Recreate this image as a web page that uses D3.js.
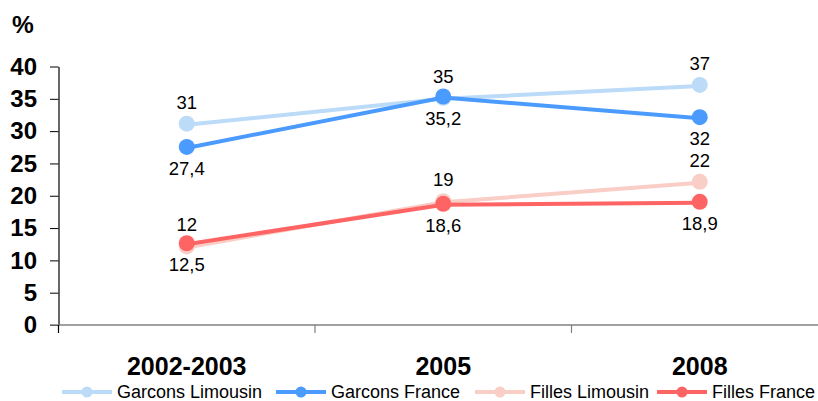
<!DOCTYPE html>
<html>
<head>
<meta charset="utf-8">
<script src="https://cdn.jsdelivr.net/npm/d3@7"></script>
<style>
  body { margin: 0; background: #fff; }
  svg { display: block; font-family: "Liberation Sans", Arial, sans-serif; }
</style>
</head>
<body>
<div id="chart"></div>
<script>
// data
var categories = ["2002-2003", "2005", "2008"];
var seriesNames = ["Garcons Limousin", "Garcons France", "Filles Limousin", "Filles France"];
var garconsLimousin = [31, 35, 37];
var garconsFrance = [27.4, 35.2, 32];
var fillesLimousin = [12, 19, 22];
var fillesFrance = [12.5, 18.6, 18.9];
var labelsGL = ["31", "35", "37"];
var labelsGF = ["27,4", "35,2", "32"];
var labelsFL = ["12", "19", "22"];
var labelsFF = ["12,5", "18,6", "18,9"];
var yTicks = [0, 5, 10, 15, 20, 25, 30, 35, 40];

var colors = ["#bcdbf9", "#4b9bfe", "#f9cec6", "#ff6464"];

var series = [
  {name: seriesNames[0], values: garconsLimousin, labels: labelsGL, color: colors[0], above: true},
  {name: seriesNames[1], values: garconsFrance, labels: labelsGF, color: colors[1], above: false},
  {name: seriesNames[2], values: fillesLimousin, labels: labelsFL, color: colors[2], above: true},
  {name: seriesNames[3], values: fillesFrance, labels: labelsFF, color: colors[3], above: false}
];

var W = 818, H = 401;
var svg = d3.select("#chart").append("svg")
  .attr("width", W).attr("height", H);

var x = d3.scaleBand()
  .domain(categories)
  .range([58.5, 828])
  .padding(0);

var y = d3.scaleLinear()
  .domain([0, 40])
  .range([325, 66.5]);

// y axis
var yAxis = svg.append("g")
  .attr("transform", "translate(58.5,0)")
  .call(d3.axisLeft(y).tickValues(yTicks).tickSize(8.5).tickSizeOuter(0).tickPadding(13));
yAxis.select(".domain").attr("stroke", "#000").attr("stroke-width", 1.2);
yAxis.selectAll(".tick line").attr("stroke", "#000");
yAxis.selectAll(".tick text")
  .attr("font-size", 24).attr("font-weight", "bold").attr("fill", "#000")
  .attr("font-family", "Liberation Sans, Arial, sans-serif");

// x axis
var xAxis = svg.append("g")
  .attr("transform", "translate(0,325)");
xAxis.append("line")
  .attr("x1", 50).attr("x2", W).attr("y1", 0).attr("y2", 0)
  .attr("stroke", "#808080").attr("stroke-width", 1.5);
xAxis.selectAll(".tickmark")
  .data(categories.slice(1))
  .enter().append("line")
  .attr("x1", function(d) { return x(d); })
  .attr("x2", function(d) { return x(d); })
  .attr("y1", 0).attr("y2", 8)
  .attr("stroke", "#808080").attr("stroke-width", 1.2);
xAxis.append("line")
  .attr("x1", 58.5).attr("x2", 58.5).attr("y1", 0).attr("y2", 8)
  .attr("stroke", "#000").attr("stroke-width", 1.2);

svg.selectAll(".cat")
  .data(categories)
  .enter().append("text")
  .attr("x", function(d) { return x(d) + x.bandwidth() / 2; })
  .attr("y", 375)
  .attr("text-anchor", "middle")
  .attr("font-size", 25).attr("font-weight", "bold")
  .text(function(d) { return d; });

// % label
svg.append("text")
  .attr("x", 12).attr("y", 33)
  .attr("font-size", 24.5).attr("font-weight", "bold")
  .text("%");

var cx = function(i) { return x(categories[i]) + x.bandwidth() / 2; };

var line = d3.line()
  .x(function(d, i) { return cx(i); })
  .y(function(d) { return y(d); });

series.forEach(function(s) {
  var g = svg.append("g");
  g.append("path")
    .datum(s.values)
    .attr("d", line)
    .attr("fill", "none")
    .attr("stroke", s.color)
    .attr("stroke-width", 4);
  g.selectAll("circle")
    .data(s.values)
    .enter().append("circle")
    .attr("cx", function(d, i) { return cx(i); })
    .attr("cy", function(d) { return y(d) - 1; })
    .attr("r", 8)
    .attr("fill", s.color);
  g.selectAll("text")
    .data(s.values)
    .enter().append("text")
    .attr("x", function(d, i) { return cx(i); })
    .attr("y", function(d) { return s.above ? y(d) - 16 : y(d) + 27; })
    .attr("text-anchor", "middle")
    .attr("font-size", 18.5)
    .attr("fill", "#000")
    .text(function(d, i) { return s.labels[i]; });
});

// legend
var legendX = [62, 276, 475, 657];
var leg = svg.append("g");
series.forEach(function(s, i) {
  var lg = leg.append("g").attr("transform", "translate(" + legendX[i] + ",392)");
  lg.append("line").attr("x1", 0).attr("x2", 50).attr("y1", 0).attr("y2", 0)
    .attr("stroke", s.color).attr("stroke-width", 4);
  lg.append("circle").attr("cx", 25).attr("cy", 0).attr("r", 5.5).attr("fill", s.color);
  lg.append("text").attr("x", 55).attr("y", 5.5)
    .attr("font-size", 18).attr("fill", "#000")
    .text(s.name);
});
</script>
</body>
</html>
